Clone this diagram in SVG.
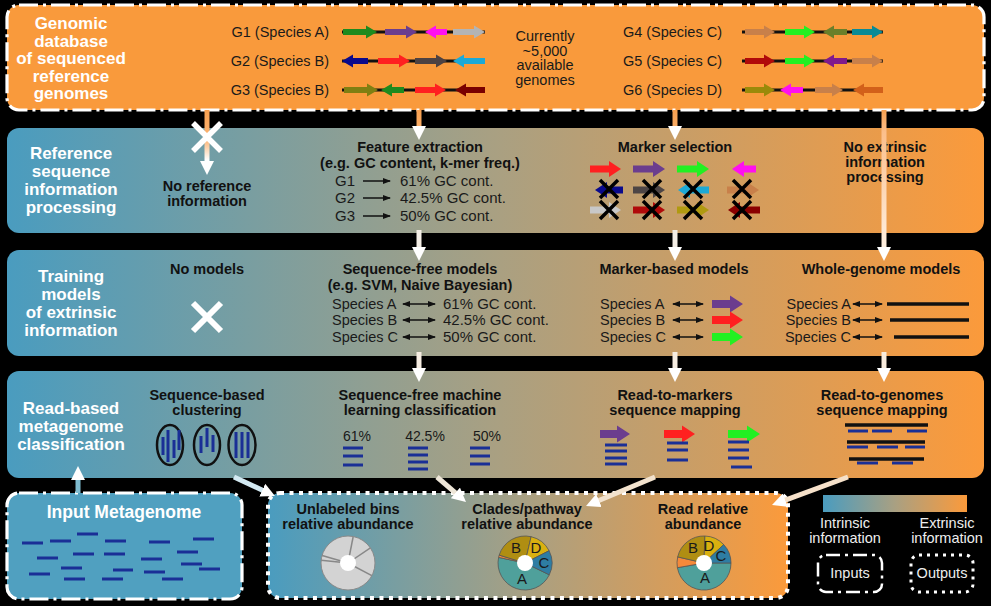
<svg xmlns="http://www.w3.org/2000/svg" width="991" height="606" viewBox="0 0 991 606">
<style>
text{font-family:"Liberation Sans",Arial,sans-serif}
.ttl{font-size:17px;font-weight:bold;fill:#fff;text-anchor:middle}
.hd{font-size:14.5px;font-weight:bold;fill:#111;text-anchor:middle}
.bd{font-size:15px;fill:#1a1a1a}
.gl{font-size:14.5px;fill:#1a1a1a;text-anchor:end}
.sp{font-size:14.5px;fill:#1a1a1a}
.pc{font-size:14px;fill:#1a1a1a;text-anchor:middle}
.pl{font-size:15px;fill:#1a1a1a;text-anchor:middle}
.lg{font-size:14.5px;fill:#eee;text-anchor:middle}
.dashdot{stroke:#fff;stroke-width:3.2;stroke-dasharray:19 5 3 5}
.dotted{stroke:#fff;stroke-width:4;stroke-dasharray:4 5.5}
.ldashdot{fill:none;stroke:#fff;stroke-width:2.5;stroke-dasharray:14 5 3 5}
.ldotted{fill:none;stroke:#fff;stroke-width:3;stroke-dasharray:3 5}
.track{stroke:#111;stroke-width:3}
.read{stroke:#1a2f96;stroke-width:3}
.gline{stroke:#111;stroke-width:3.5}
.thin{stroke:#111;stroke-width:1.5}
.conn{fill:none;stroke-width:5}
.wx{stroke:#fff;stroke-width:5.5}
.seg{stroke:#888;stroke-width:1.5}
.pie{stroke:#555;stroke-width:0.8}
</style>
<defs>
<linearGradient id="rowGrad" x1="0" y1="0" x2="1" y2="0">
<stop offset="0" stop-color="#4A9CBF"/>
<stop offset="0.5" stop-color="#A9A082"/>
<stop offset="1" stop-color="#FB9A3B"/>
</linearGradient>
<linearGradient id="gTop" gradientUnits="userSpaceOnUse" x1="0" y1="110" x2="0" y2="160">
<stop offset="0" stop-color="#F8A04F"/>
<stop offset="0.6" stop-color="#FBB679"/>
<stop offset="1" stop-color="#FFFFFF"/>
</linearGradient>
<linearGradient id="gLong" gradientUnits="userSpaceOnUse" x1="0" y1="110" x2="0" y2="255">
<stop offset="0" stop-color="#F8A04F"/>
<stop offset="0.15" stop-color="#FBBE8A"/>
<stop offset="1" stop-color="#FFF4E8"/>
</linearGradient>
<marker id="wh" viewBox="0 0 14 14" markerWidth="14" markerHeight="14" refX="2" refY="7" orient="auto" markerUnits="userSpaceOnUse">
<path d="M0,0 L14,7 L0,14 Z" fill="#fff"/>
</marker>
<marker id="bh" viewBox="0 0 8 6" markerWidth="8" markerHeight="6" refX="7" refY="3" orient="auto-start-reverse" markerUnits="userSpaceOnUse">
<path d="M0,0 L8,3 L0,6 Z" fill="#111"/>
</marker>
<path id="xm" d="M-9,-9 L9,9 M9,-9 L-9,9" stroke="#000" stroke-width="3.5"/>
</defs>

<rect width="991" height="606" fill="#000"/>

<!-- Genomic database -->
<g id="genomic-database">
<rect x="7" y="5" width="977" height="105" rx="12" fill="#F99A3C" class="dashdot"/>
<text class="ttl" x="71" y="29">Genomic</text>
<text class="ttl" x="71" y="46.5">database</text>
<text class="ttl" x="71" y="64">of sequenced</text>
<text class="ttl" x="71" y="81.5">reference</text>
<text class="ttl" x="71" y="99">genomes</text>
<text class="gl" x="329" y="37">G1 (Species A)</text>
<text class="gl" x="329" y="66">G2 (Species B)</text>
<text class="gl" x="329" y="95">G3 (Species B)</text>
<line class="track" x1="342" y1="32" x2="485" y2="32"/>
<line class="track" x1="342" y1="61" x2="485" y2="61"/>
<line class="track" x1="342" y1="90" x2="485" y2="90"/>
<path fill="#1E8A1E" d="M343 29 H366 V25.5 L377 32 L366 38.5 V35 H343Z"/>
<path fill="#6B3D8E" d="M385 29 H406 V25.5 L417 32 L406 38.5 V35 H385Z"/>
<path fill="#FF10F0" d="M447 29 H436 V25.5 L425 32 L436 38.5 V35 H447Z"/>
<path fill="#B4B4B4" d="M453 29 H474 V25.5 L485 32 L474 38.5 V35 H453Z"/>
<path fill="#0A0A8C" d="M368 58 H353 V54.5 L342 61 L353 67.5 V64 H368Z"/>
<path fill="#FF2020" d="M378 58 H399 V54.5 L410 61 L399 67.5 V64 H378Z"/>
<path fill="#4D4242" d="M415 58 H436 V54.5 L447 61 L436 67.5 V64 H415Z"/>
<path fill="#1CA9D6" d="M485 58 H464 V54.5 L453 61 L464 67.5 V64 H485Z"/>
<path fill="#7F7F12" d="M344 87 H367 V83.5 L378 90 L367 96.5 V93 H344Z"/>
<path fill="#1E8A1E" d="M404 87 H392 V83.5 L381 90 L392 96.5 V93 H404Z"/>
<path fill="#FF2020" d="M415 87 H435 V83.5 L446 90 L435 96.5 V93 H415Z"/>
<path fill="#7A0000" d="M485 87 H466 V83.5 L455 90 L466 96.5 V93 H485Z"/>
<text class="sp" x="545" y="41" text-anchor="middle">Currently</text>
<text class="sp" x="545" y="55.5" text-anchor="middle">~5,000</text>
<text class="sp" x="545" y="70" text-anchor="middle">available</text>
<text class="sp" x="545" y="84.5" text-anchor="middle">genomes</text>
<text class="gl" x="722" y="37">G4 (Species C)</text>
<text class="gl" x="722" y="66">G5 (Species C)</text>
<text class="gl" x="722" y="95">G6 (Species D)</text>
<line class="track" x1="742" y1="32" x2="883" y2="32"/>
<line class="track" x1="742" y1="61" x2="883" y2="61"/>
<line class="track" x1="742" y1="90" x2="883" y2="90"/>
<path fill="#C8804A" d="M745 29 H764 V25.5 L775 32 L764 38.5 V35 H745Z"/>
<path fill="#22F022" d="M785 29 H804 V25.5 L815 32 L804 38.5 V35 H785Z"/>
<path fill="#6B7F2A" d="M847 29 H834 V25.5 L823 32 L834 38.5 V35 H847Z"/>
<path fill="#0A8A95" d="M852 29 H872 V25.5 L883 32 L872 38.5 V35 H852Z"/>
<path fill="#B00A0A" d="M745 58 H764 V54.5 L775 61 L764 67.5 V64 H745Z"/>
<path fill="#22F022" d="M785 58 H804 V54.5 L815 61 L804 67.5 V64 H785Z"/>
<path fill="#801A8C" d="M847 58 H834 V54.5 L823 61 L834 67.5 V64 H847Z"/>
<path fill="#C8804A" d="M852 58 H872 V54.5 L883 61 L872 67.5 V64 H852Z"/>
<path fill="#9A8A0A" d="M745 87 H764 V83.5 L775 90 L764 96.5 V93 H745Z"/>
<path fill="#FF10F0" d="M803 87 H791 V83.5 L780 90 L791 96.5 V93 H803Z"/>
<path fill="#C8804A" d="M815 87 H832 V83.5 L843 90 L832 96.5 V93 H815Z"/>
<path fill="#D2601A" d="M883 87 H864 V83.5 L853 90 L864 96.5 V93 H883Z"/>
</g>

<!-- Reference sequence information processing -->
<g id="reference-processing">
<rect x="7" y="128" width="977" height="105" rx="12" fill="url(#rowGrad)"/>
<text class="ttl" x="71" y="159">Reference</text>
<text class="ttl" x="71" y="177">sequence</text>
<text class="ttl" x="71" y="195">information</text>
<text class="ttl" x="71" y="213">processing</text>
<text class="hd" x="207" y="191">No reference</text>
<text class="hd" x="207" y="206">information</text>
<text class="hd" x="420" y="152">Feature extraction</text>
<text class="hd" x="420" y="168">(e.g. GC content, k-mer freq.)</text>
<text class="bd" x="335" y="186">G1</text>
<text class="bd" x="335" y="203">G2</text>
<text class="bd" x="335" y="221">G3</text>
<line class="thin" x1="363" y1="181" x2="390" y2="181" marker-end="url(#bh)"/>
<line class="thin" x1="363" y1="198" x2="390" y2="198" marker-end="url(#bh)"/>
<line class="thin" x1="363" y1="216" x2="390" y2="216" marker-end="url(#bh)"/>
<text class="bd" x="400" y="186">61% GC cont.</text>
<text class="bd" x="400" y="203">42.5% GC cont.</text>
<text class="bd" x="400" y="221">50% GC cont.</text>
<text class="hd" x="675" y="152">Marker selection</text>
<path fill="#FF2020" d="M590 165.5 H609 V161 L621 169 L609 177 V172.5 H590Z"/>
<path fill="#6B3D8E" d="M633 165.5 H653 V161 L665 169 L653 177 V172.5 H633Z"/>
<path fill="#22F022" d="M677 165.5 H697 V161 L709 169 L697 177 V172.5 H677Z"/>
<path fill="#FF10F0" d="M756 165.5 H744 V161 L732 169 L744 177 V172.5 H756Z"/>
<path fill="#0A0A8C" d="M623 186.5 H607 V182 L595 190 L607 198 V193.5 H623Z"/>
<path fill="#4D4545" d="M633 186.5 H653 V182 L665 190 L653 198 V193.5 H633Z"/>
<path fill="#1CA9D6" d="M709 186.5 H690 V182 L678 190 L690 198 V193.5 H709Z"/>
<path fill="#C8804A" d="M727 186.5 H747 V182 L759 190 L747 198 V193.5 H727Z"/>
<path fill="#C8C8C8" d="M590 206.5 H609 V202 L621 210 L609 218 V213.5 H590Z"/>
<path fill="#B00A0A" d="M633 206.5 H653 V202 L665 210 L653 218 V213.5 H633Z"/>
<path fill="#B09A10" d="M677 206.5 H697 V202 L709 210 L697 218 V213.5 H677Z"/>
<path fill="#8B0000" d="M760 206.5 H740 V202 L728 210 L740 218 V213.5 H760Z"/>
<use href="#xm" x="609" y="189"/>
<use href="#xm" x="652" y="189"/>
<use href="#xm" x="693" y="189"/>
<use href="#xm" x="742" y="189"/>
<use href="#xm" x="609" y="210"/>
<use href="#xm" x="652" y="210"/>
<use href="#xm" x="693" y="210"/>
<use href="#xm" x="742" y="210"/>
<text class="hd" x="885" y="152">No extrinsic</text>
<text class="hd" x="885" y="167">information</text>
<text class="hd" x="885" y="182">processing</text>
</g>

<!-- Training models -->
<g id="training-models">
<rect x="7" y="250" width="977" height="106" rx="12" fill="url(#rowGrad)"/>
<text class="ttl" x="71" y="282">Training</text>
<text class="ttl" x="71" y="300">models</text>
<text class="ttl" x="71" y="318">of extrinsic</text>
<text class="ttl" x="71" y="336">information</text>
<text class="hd" x="207" y="274">No models</text>
<path class="wx" d="M193,303 L221,331 M221,303 L193,331" style="stroke-width:6"/>
<text class="hd" x="420" y="274">Sequence-free models</text>
<text class="hd" x="420" y="290">(e.g. SVM, Naive Bayesian)</text>
<text class="sp" x="332" y="309">Species A</text>
<text class="sp" x="332" y="325">Species B</text>
<text class="sp" x="332" y="342">Species C</text>
<line class="thin" x1="403" y1="304" x2="435" y2="304" marker-start="url(#bh)" marker-end="url(#bh)"/>
<line class="thin" x1="403" y1="320" x2="435" y2="320" marker-start="url(#bh)" marker-end="url(#bh)"/>
<line class="thin" x1="403" y1="337" x2="435" y2="337" marker-start="url(#bh)" marker-end="url(#bh)"/>
<text class="bd" x="443" y="309">61% GC cont.</text>
<text class="bd" x="443" y="325">42.5% GC cont.</text>
<text class="bd" x="443" y="342">50% GC cont.</text>
<text class="hd" x="674" y="274">Marker-based models</text>
<text class="sp" x="600" y="309">Species A</text>
<text class="sp" x="600" y="325">Species B</text>
<text class="sp" x="600" y="342">Species C</text>
<line class="thin" x1="673" y1="304" x2="703" y2="304" marker-start="url(#bh)" marker-end="url(#bh)"/>
<line class="thin" x1="673" y1="320" x2="703" y2="320" marker-start="url(#bh)" marker-end="url(#bh)"/>
<line class="thin" x1="673" y1="337" x2="703" y2="337" marker-start="url(#bh)" marker-end="url(#bh)"/>
<path fill="#6B3D8E" d="M712 300 H730 V295.5 L743 304 L730 312.5 V308 H712Z"/>
<path fill="#FF2020" d="M712 316 H730 V311.5 L743 320 L730 328.5 V324 H712Z"/>
<path fill="#22F022" d="M712 333 H730 V328.5 L743 337 L730 345.5 V341 H712Z"/>
<text class="hd" x="881" y="274">Whole-genome models</text>
<text class="sp" x="851" y="309" text-anchor="end">Species A</text>
<text class="sp" x="851" y="325" text-anchor="end">Species B</text>
<text class="sp" x="851" y="342" text-anchor="end">Species C</text>
<line class="thin" x1="853" y1="304" x2="882" y2="304" marker-start="url(#bh)" marker-end="url(#bh)"/>
<line class="thin" x1="853" y1="320" x2="882" y2="320" marker-start="url(#bh)" marker-end="url(#bh)"/>
<line class="thin" x1="853" y1="337" x2="882" y2="337" marker-start="url(#bh)" marker-end="url(#bh)"/>
<line class="gline" x1="887" y1="304" x2="969" y2="304"/>
<line class="gline" x1="890" y1="320" x2="969" y2="320"/>
<line class="gline" x1="894" y1="337" x2="969" y2="337"/>
</g>

<!-- Read-based metagenome classification -->
<g id="read-classification">
<rect x="7" y="371" width="977" height="107" rx="12" fill="url(#rowGrad)"/>
<text class="ttl" x="71" y="414">Read-based</text>
<text class="ttl" x="71" y="432">metagenome</text>
<text class="ttl" x="71" y="450">classification</text>
<text class="hd" x="207" y="400">Sequence-based</text>
<text class="hd" x="207" y="415">clustering</text>
<ellipse cx="170" cy="445" rx="13" ry="20" fill="none" stroke="#111" stroke-width="2.5"/>
<ellipse cx="207" cy="445" rx="13" ry="20" fill="none" stroke="#111" stroke-width="2.5"/>
<ellipse cx="242" cy="445" rx="13.5" ry="20" fill="none" stroke="#111" stroke-width="2.5"/>
<line class="read" x1="163" y1="437" x2="163" y2="455"/>
<line class="read" x1="168" y1="430" x2="168" y2="462"/>
<line class="read" x1="174" y1="440" x2="174" y2="458"/>
<line class="read" x1="179" y1="430" x2="179" y2="450"/>
<line class="read" x1="201" y1="436" x2="201" y2="453"/>
<line class="read" x1="207" y1="428" x2="207" y2="447"/>
<line class="read" x1="213" y1="435" x2="213" y2="452"/>
<line class="read" x1="236" y1="432" x2="236" y2="458"/>
<line class="read" x1="242" y1="432" x2="242" y2="458"/>
<line class="read" x1="248" y1="432" x2="248" y2="458"/>
<text class="hd" x="420" y="400">Sequence-free machine</text>
<text class="hd" x="420" y="415">learning classification</text>
<text class="pc" x="357" y="441">61%</text>
<text class="pc" x="425" y="441">42.5%</text>
<text class="pc" x="487" y="441">50%</text>
<line class="read" x1="343" y1="448" x2="363" y2="448"/>
<line class="read" x1="343" y1="456" x2="363" y2="456"/>
<line class="read" x1="343" y1="465" x2="363" y2="465"/>
<line class="read" x1="408" y1="448" x2="428" y2="448"/>
<line class="read" x1="408" y1="455" x2="428" y2="455"/>
<line class="read" x1="408" y1="462" x2="428" y2="462"/>
<line class="read" x1="408" y1="469" x2="428" y2="469"/>
<line class="read" x1="470" y1="448" x2="490" y2="448"/>
<line class="read" x1="470" y1="456" x2="490" y2="456"/>
<line class="read" x1="470" y1="464" x2="490" y2="464"/>
<text class="hd" x="675" y="400">Read-to-markers</text>
<text class="hd" x="675" y="415">sequence mapping</text>
<path fill="#6B3D8E" d="M600 430 H617 V425.5 L630 434 L617 442.5 V438 H600Z"/>
<path fill="#FF2020" d="M664 430 H682 V425.5 L695 434 L682 442.5 V438 H664Z"/>
<path fill="#22F022" d="M728 430 H747 V425.5 L760 434 L747 442.5 V438 H728Z"/>
<line class="read" x1="605" y1="445" x2="627" y2="445"/>
<line class="read" x1="605" y1="451" x2="627" y2="451"/>
<line class="read" x1="605" y1="458" x2="627" y2="458"/>
<line class="read" x1="605" y1="464" x2="627" y2="464"/>
<line class="read" x1="667" y1="443" x2="688" y2="443"/>
<line class="read" x1="667" y1="450" x2="688" y2="450"/>
<line class="read" x1="667" y1="460" x2="688" y2="460"/>
<line class="read" x1="728" y1="442" x2="749" y2="442"/>
<line class="read" x1="728" y1="450" x2="749" y2="450"/>
<line class="read" x1="728" y1="458" x2="749" y2="458"/>
<line class="read" x1="731" y1="467" x2="752" y2="467"/>
<text class="hd" x="882" y="400">Read-to-genomes</text>
<text class="hd" x="882" y="415">sequence mapping</text>
<line class="gline" x1="845" y1="425" x2="928" y2="425"/>
<line class="gline" x1="847" y1="442" x2="925" y2="442"/>
<line class="gline" x1="849" y1="459" x2="924" y2="459"/>
<line class="read" x1="848" y1="431" x2="868" y2="431"/>
<line class="read" x1="872" y1="431" x2="892" y2="431"/>
<line class="read" x1="907" y1="431" x2="927" y2="431"/>
<line class="read" x1="847" y1="447" x2="868" y2="447"/>
<line class="read" x1="877" y1="447" x2="898" y2="447"/>
<line class="read" x1="905" y1="447" x2="925" y2="447"/>
<line class="read" x1="857" y1="463" x2="878" y2="463"/>
<line class="read" x1="892" y1="463" x2="913" y2="463"/>
</g>

<!-- Input metagenome -->
<g id="input-metagenome">
<rect x="7" y="493" width="235" height="106" rx="12" fill="#50A0C0" class="dashdot"/>
<text class="ttl" x="124" y="518" style="font-size:17.5px">Input Metagenome</text>
<g class="read">
<line x1="22" y1="543" x2="43" y2="543"/>
<line x1="50" y1="541" x2="71" y2="541"/>
<line x1="77" y1="534" x2="98" y2="534"/>
<line x1="105" y1="541" x2="126" y2="541"/>
<line x1="149" y1="542" x2="170" y2="542"/>
<line x1="193" y1="539" x2="214" y2="539"/>
<line x1="37" y1="558" x2="58" y2="558"/>
<line x1="73" y1="554" x2="94" y2="554"/>
<line x1="104" y1="554" x2="125" y2="554"/>
<line x1="141" y1="559" x2="162" y2="559"/>
<line x1="177" y1="552" x2="198" y2="552"/>
<line x1="61" y1="568" x2="82" y2="568"/>
<line x1="113" y1="570" x2="133" y2="570"/>
<line x1="144" y1="572" x2="165" y2="572"/>
<line x1="181" y1="564" x2="202" y2="564"/>
<line x1="199" y1="569" x2="220" y2="569"/>
<line x1="29" y1="574" x2="50" y2="574"/>
<line x1="64" y1="579" x2="85" y2="579"/>
<line x1="102" y1="579" x2="123" y2="579"/>
<line x1="162" y1="579" x2="183" y2="579"/>
</g>
</g>

<!-- Outputs -->
<g id="outputs">
<rect x="268" y="493" width="520" height="105" rx="12" fill="url(#rowGrad)" class="dotted"/>
<text class="hd" x="348" y="514">Unlabeled bins</text>
<text class="hd" x="348" y="529">relative abundance</text>
<circle cx="348" cy="563" r="27" fill="#D3D3D3" stroke="#8a8a8a" stroke-width="1"/>
<line class="seg" x1="348" y1="563" x2="353.2" y2="536.5"/>
<line class="seg" x1="348" y1="563" x2="370.4" y2="547.9"/>
<line class="seg" x1="348" y1="563" x2="371.8" y2="575.7"/>
<line class="seg" x1="348" y1="563" x2="321.1" y2="560.2"/>
<line class="seg" x1="348" y1="563" x2="322.1" y2="555.5"/>
<circle cx="348" cy="563" r="8" fill="#fff"/>
<text class="hd" x="527" y="514">Clades/pathway</text>
<text class="hd" x="527" y="529">relative abundance</text>
<path class="pie" fill="#4FA09B" d="M525,563 L549.3,574.8 A27,27 0 0 1 498.6,557.4 Z"/>
<path class="pie" fill="#F5893A" d="M525,563 L498.6,557.4 A27,27 0 0 1 499.2,555.1 Z"/>
<path class="pie" fill="#B08E12" d="M525,563 L499.2,555.1 A27,27 0 0 1 531.1,536.7 Z"/>
<path class="pie" fill="#D9B010" d="M525,563 L531.1,536.7 A27,27 0 0 1 549.1,550.7 Z"/>
<path class="pie" fill="#2E7DA3" d="M525,563 L549.1,550.7 A27,27 0 0 1 549.3,574.8 Z"/>
<circle cx="525" cy="563" r="8" fill="#fff"/>
<text class="pl" x="516" y="553">B</text>
<text class="pl" x="536" y="553">D</text>
<text class="pl" x="544" y="568">C</text>
<text class="pl" x="522" y="584">A</text>
<text class="hd" x="703" y="514">Read relative</text>
<text class="hd" x="703" y="529">abundance</text>
<path class="pie" fill="#4FA09B" d="M704,563 L731,563 A27,27 0 0 1 677.4,567.7 Z"/>
<path class="pie" fill="#F5893A" d="M704,563 L677.4,567.7 A27,27 0 0 1 677.7,556.9 Z"/>
<path class="pie" fill="#B08E12" d="M704,563 L677.7,556.9 A27,27 0 0 1 704.9,536 Z"/>
<path class="pie" fill="#D9B010" d="M704,563 L704.9,536 A27,27 0 0 1 723.7,544.6 Z"/>
<path class="pie" fill="#2E7DA3" d="M704,563 L723.7,544.6 A27,27 0 0 1 731,563 Z"/>
<circle cx="704" cy="563" r="8" fill="#fff"/>
<text class="pl" x="693" y="553">B</text>
<text class="pl" x="709" y="551">D</text>
<text class="pl" x="721" y="561">C</text>
<text class="pl" x="705" y="583">A</text>
</g>

<!-- Connectors -->
<g id="connectors">
<line class="conn" stroke="url(#gTop)" x1="207" y1="110" x2="207" y2="163" marker-end="url(#wh)"/>
<line class="conn" stroke="url(#gTop)" x1="419" y1="110" x2="419" y2="128" marker-end="url(#wh)"/>
<line class="conn" stroke="url(#gTop)" x1="675" y1="110" x2="675" y2="128" marker-end="url(#wh)"/>
<line class="conn" stroke="url(#gLong)" x1="884" y1="110" x2="884" y2="249" marker-end="url(#wh)"/>
<line class="conn" stroke="#F4EEE6" x1="419" y1="230" x2="419" y2="249" marker-end="url(#wh)"/>
<line class="conn" stroke="#F4EEE6" x1="675" y1="230" x2="675" y2="249" marker-end="url(#wh)"/>
<line class="conn" stroke="#F6EDE2" x1="419" y1="352" x2="419" y2="370" marker-end="url(#wh)"/>
<line class="conn" stroke="#F6EDE2" x1="675" y1="352" x2="675" y2="370" marker-end="url(#wh)"/>
<line class="conn" stroke="#F8ECDD" x1="884" y1="352" x2="884" y2="370" marker-end="url(#wh)"/>
<line class="conn" stroke="#7FBCD0" x1="78" y1="493" x2="78" y2="478" marker-end="url(#wh)"/>
<line class="conn" stroke="#D3E9F2" x1="234" y1="477" x2="264.1" y2="491" marker-end="url(#wh)"/>
<line class="conn" stroke="#EEE6D8" x1="437" y1="477" x2="456.9" y2="494.2" marker-end="url(#wh)"/>
<line class="conn" stroke="#F3E3CE" x1="655" y1="477" x2="597.1" y2="501.3" marker-end="url(#wh)"/>
<line class="conn" stroke="#F6E1CA" x1="848" y1="477" x2="783.3" y2="500.8" marker-end="url(#wh)"/>
</g>

<g id="blocked-mark">
<path class="wx" d="M193,123 L221,151 M221,123 L193,151"/>
</g>

<!-- Legend -->
<g id="legend">
<rect x="823" y="495" width="144" height="17" fill="url(#rowGrad)"/>
<text class="lg" x="845" y="528">Intrinsic</text>
<text class="lg" x="845" y="543">information</text>
<text class="lg" x="947" y="528">Extrinsic</text>
<text class="lg" x="947" y="543">information</text>
<rect x="818" y="555" width="64" height="37" rx="8" class="ldashdot"/>
<text class="lg" x="850" y="578">Inputs</text>
<rect x="911" y="555" width="62" height="37" rx="8" class="ldotted"/>
<text class="lg" x="942" y="578">Outputs</text>
</g>
</svg>
